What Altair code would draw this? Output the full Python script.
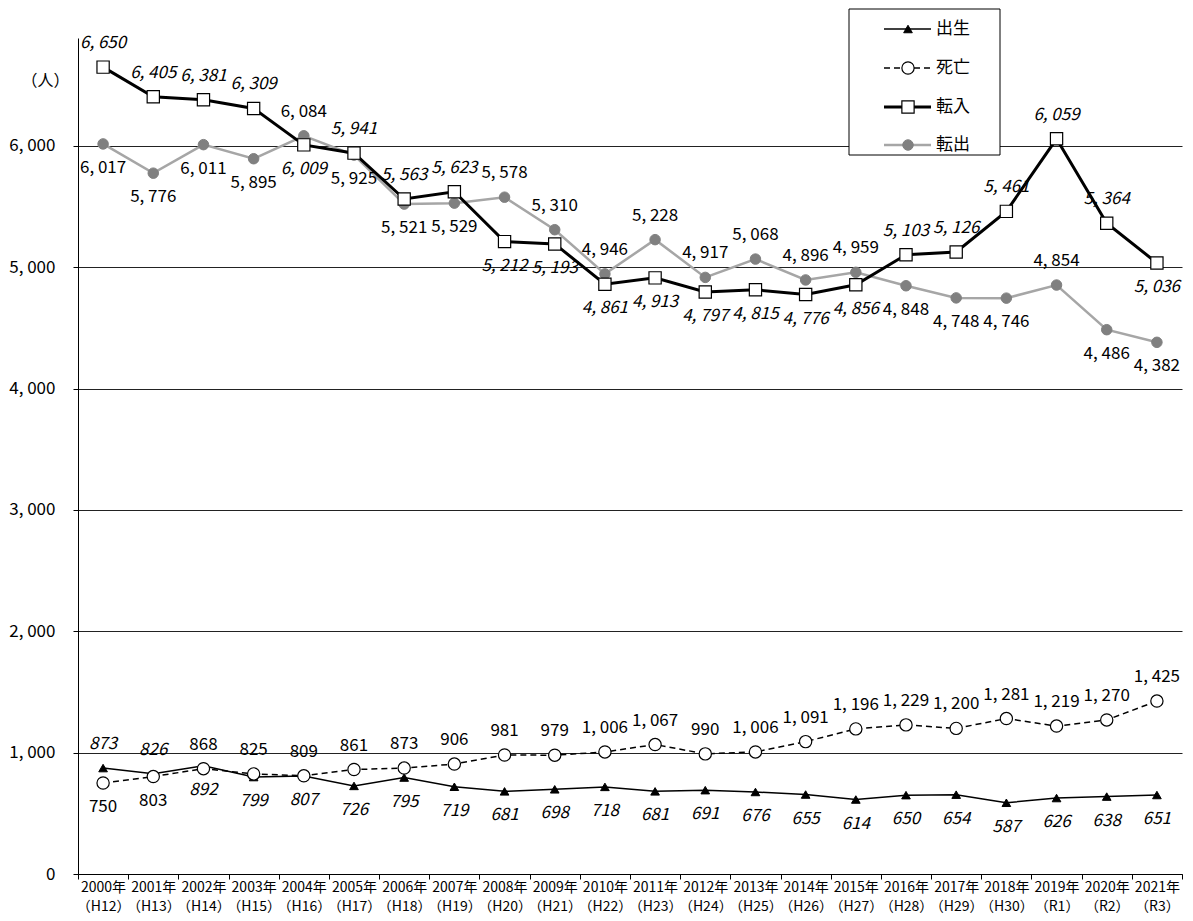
import altair as alt
import pandas as pd

# ---------------- data ----------------
years = [str(y) for y in range(2000, 2022)]
eras = ["H12", "H13", "H14", "H15", "H16", "H17", "H18", "H19", "H20", "H21", "H22",
        "H23", "H24", "H25", "H26", "H27", "H28", "H29", "H30", "R1", "R2", "R3"]
series_names = ["出生", "死亡", "転入", "転出"]
birth = [873, 826, 892, 799, 807, 726, 795, 719, 681, 698, 718, 681, 691, 676, 655, 614,
         650, 654, 587, 626, 638, 651]
death = [750, 803, 868, 825, 809, 861, 873, 906, 981, 979, 1006, 1067, 990, 1006, 1091,
         1196, 1229, 1200, 1281, 1219, 1270, 1425]
move_in = [6650, 6405, 6381, 6309, 6009, 5941, 5563, 5623, 5212, 5193, 4861, 4913, 4797,
           4815, 4776, 4856, 5103, 5126, 5461, 6059, 5364, 5036]
move_out = [6017, 5776, 6011, 5895, 6084, 5925, 5521, 5529, 5578, 5310, 4946, 5228, 4917,
            5068, 4896, 4959, 4848, 4748, 4746, 4854, 4486, 4382]
y_ticks = [0, 1000, 2000, 3000, 4000, 5000, 6000]

# label placement style: 1 = label above the point, 0 = below
birth_above = [1, 1] + [0] * 20
death_above = [0, 0] + [1] * 20
in_above = [1, 1, 1, 1, 0, 1, 1, 1, 0, 0, 0, 0, 0, 0, 0, 0, 1, 1, 1, 1, 1, 0]
out_above = [0, 0, 0, 0, 1, 0, 0, 0, 1, 1, 1, 1, 1, 1, 1, 1, 0, 0, 0, 1, 0, 0]

cats = [f"{y}年|（{e}）" for y, e in zip(years, eras)]

FONT = "Noto Sans CJK JP"
FMT = "replace(format(datum.value, ','), ',', ', ')"

x_enc = alt.X(
    "cat:N", sort=cats, bandPosition=0.5,
    scale=alt.Scale(type="band", paddingInner=0, paddingOuter=0),
    axis=alt.Axis(title=None, labelAngle=0, tickBand="extent", grid=False,
                  labelExpr="split(datum.label, '|')", labelLineHeight=19,
                  labelFont=FONT, labelFontSize=14, labelColor="black",
                  labelPadding=1, tickSize=5, tickColor="black", domainColor="black"),
)
y_enc = alt.Y(
    "value:Q",
    scale=alt.Scale(domain=[0, 6890], nice=False, zero=True),
    axis=alt.Axis(values=y_ticks, grid=True, gridColor="#222222", gridWidth=1,
                  domainColor="black", tickColor="black", tickSize=5, labelPadding=18,
                  labelFont=FONT, labelFontSize=17, labelColor="black",
                  labelExpr=FMT,
                  title="（人）", titleAngle=0, titleFont=FONT, titleFontSize=16,
                  titleFontWeight="normal", titleColor="black", titleX=-33, titleY=42,
                  titleAlign="center", titleBaseline="middle"),
)


def series_layers(values, above, line_kw, point_kw, italic):
    df = pd.DataFrame({"cat": cats, "value": values, "above": above})
    base = alt.Chart(df).encode(x=x_enc, y=y_enc)
    line = base.mark_line(**line_kw)
    pts = base.mark_point(opacity=1, **point_kw)
    txt_kw = dict(font=FONT, fontSize=17, color="black",
                  fontStyle="italic" if italic else "normal")
    up = (base.transform_filter("datum.above == 1")
          .transform_calculate(lbl=FMT)
          .mark_text(dy=-24, **txt_kw).encode(text="lbl:N"))
    dn = (base.transform_filter("datum.above == 0")
          .transform_calculate(lbl=FMT)
          .mark_text(dy=24, **txt_kw).encode(text="lbl:N"))
    return line, pts, up, dn


styles = [
    (dict(color="black", strokeWidth=1.5),
     dict(shape="triangle-up", size=75, filled=True, fill="black", stroke="black", strokeWidth=1),
     True),
    (dict(color="black", strokeWidth=1.5, strokeDash=[6, 4]),
     dict(shape="circle", size=150, filled=True, fill="white", stroke="black", strokeWidth=1.2),
     False),
    (dict(color="black", strokeWidth=3),
     dict(shape="square", size=150, filled=True, fill="white", stroke="black", strokeWidth=1.2),
     True),
    (dict(color="#a6a6a6", strokeWidth=2.5),
     dict(shape="circle", size=110, filled=True, fill="#808080", stroke="#808080", strokeWidth=1),
     False),
]

b = series_layers(birth, birth_above, *styles[0])
d = series_layers(death, death_above, *styles[1])
i_ = series_layers(move_in, in_above, *styles[2])
o = series_layers(move_out, out_above, *styles[3])

# ---------------- legend (drawn box) ----------------
one = pd.DataFrame({"k": [0]})
legend_layers = [
    alt.Chart(one).mark_rect(fill="white", stroke="black", strokeWidth=1).encode(
        x=alt.value(771), x2=alt.value(922), y=alt.value(-29), y2=alt.value(117))
]
LEG_Y = [-9, 30, 69, 107]
for k, name in enumerate(series_names):
    lkw, pkw, _ = styles[k]
    yy = LEG_Y[k]
    legend_layers.append(alt.Chart(one).mark_rule(**lkw).encode(
        x=alt.value(806), x2=alt.value(853), y=alt.value(yy)))
    legend_layers.append(alt.Chart(one).mark_point(opacity=1, **pkw).encode(
        x=alt.value(830), y=alt.value(yy)))
    legend_layers.append(alt.Chart(one).mark_text(
        align="left", baseline="middle", font=FONT, fontSize=17, color="black").encode(
        x=alt.value(858), y=alt.value(yy), text=alt.value(name)))

chart = alt.layer(
    b[0], d[0], o[0], i_[0],
    b[1], d[1], o[1], i_[1],
    b[2], b[3], d[2], d[3], i_[2], i_[3], o[2], o[3],
    *legend_layers,
).properties(
    width=1104, height=836,
    padding={"left": 0, "top": 0, "right": 0, "bottom": 0},
    background="white",
).configure_view(stroke=None)

chart.save("out.html", embed_options={"renderer": "svg", "actions": False})
